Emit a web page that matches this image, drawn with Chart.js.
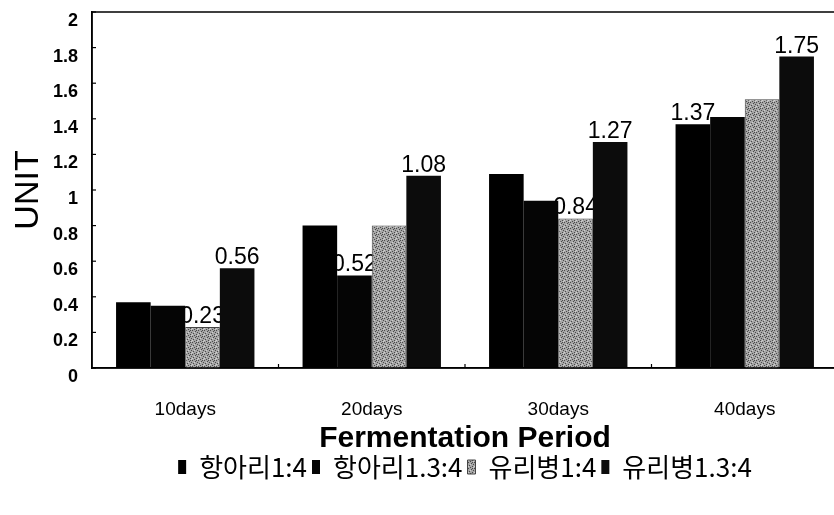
<!DOCTYPE html>
<html><head><meta charset="utf-8">
<script src="https://cdn.jsdelivr.net/npm/chart.js@4.4.1/dist/chart.umd.min.js"></script>
<style>html,body{margin:0;padding:0;background:#fff;overflow:hidden}</style>
</head><body>
<div style="width:834px;height:515px;overflow:hidden;background:#fff"><canvas id="c" width="838" height="515"></canvas></div>
<script>
const categories = ['10days', '20days', '30days', '40days'];
const seriesNames = ['항아리1:4', '항아리1.3:4', '유리병1:4', '유리병1.3:4'];
const hangari14 = [0.37, 0.80, 1.09, 1.37];
const hangari134 = [0.35, 0.52, 0.94, 1.41];
const yuribyeong14 = [0.23, 0.80, 0.84, 1.51];
const yuribyeong134 = [0.56, 1.08, 1.27, 1.75];
// series indices that carry a value label, per category
const labeledSeries = [[2, 3], [1, 3], [2, 3], [0, 3]];
const yMin = 0, yMax = 2, yStep = 0.2;

const sans = '"Liberation Sans", Arial, sans-serif';

// stippled grey fill (style only)
function stipple() {
  const c = document.createElement('canvas');
  c.width = 6; c.height = 6;
  const g = c.getContext('2d');
  g.fillStyle = '#a6a6a6'; g.fillRect(0, 0, 6, 6);
  g.fillStyle = '#4a4a4a';
  [[0,0],[3,1],[1,3],[4,4],[2,5],[5,2],[4,0]].forEach(p => g.fillRect(p[0], p[1], 1, 1));
  g.fillStyle = '#d0d0d0';
  [[2,2],[5,5],[0,4]].forEach(p => g.fillRect(p[0], p[1], 1, 1));
  return g.createPattern(c, 'repeat');
}

const overlay = {
  id: 'overlay',
  beforeDatasetsDraw(chart) {
    const ctx = chart.ctx;
    ctx.save();
    ctx.font = '23px ' + sans;
    ctx.fillStyle = '#000';
    ctx.textAlign = 'center';
    ctx.textBaseline = 'alphabetic';
    labeledSeries.forEach((list, ci) => list.forEach(si => {
      const el = chart.getDatasetMeta(si).data[ci];
      const v = chart.data.datasets[si].data[ci];
      ctx.fillText(v.toFixed(2), el.x, el.y - 4);
    }));
    ctx.restore();
  },
  afterDraw(chart) {
    const {ctx, chartArea: a, scales: {x, y}} = chart;
    ctx.save();
    ctx.strokeStyle = '#000';
    ctx.lineWidth = 1.5;
    ctx.strokeRect(a.left, a.top, a.right - a.left, a.bottom - a.top);
    ctx.lineWidth = 1.2;
    y.ticks.forEach(t => {
      const py = y.getPixelForValue(t.value);
      ctx.beginPath(); ctx.moveTo(a.left, py); ctx.lineTo(a.left + 4, py); ctx.stroke();
    });
    for (let i = 1; i < categories.length; i++) {
      const px = x.getPixelForValue(i - 0.5);
      ctx.beginPath(); ctx.moveTo(px, a.bottom); ctx.lineTo(px, a.bottom - 4); ctx.stroke();
    }
    ctx.restore();
  }
};

new Chart(document.getElementById('c'), {
  type: 'bar',
  data: {
    labels: categories,
    datasets: [
      {label: seriesNames[0], data: hangari14, backgroundColor: '#000', borderWidth: 0},
      {label: seriesNames[1], data: hangari134, backgroundColor: '#050505', borderWidth: 0},
      {label: seriesNames[2], data: yuribyeong14, backgroundColor: stipple(), borderColor: '#444', borderWidth: 1},
      {label: seriesNames[3], data: yuribyeong134, backgroundColor: '#0c0c0c', borderWidth: 0}
    ]
  },
  options: {
    responsive: false,
    animation: false,
    devicePixelRatio: 1,
    barPercentage: 1,
    categoryPercentage: 0.742,
    layout: {padding: {top: 12, left: 0, right: 0, bottom: 25}},
    plugins: {
      legend: {
        position: 'bottom',
        fullSize: false,
        labels: {
          boxWidth: 8, boxHeight: 14, padding: 5, color: '#000',
          font: {family: '"Noto Sans CJK KR", sans-serif', size: 26}
        }
      },
      tooltip: {enabled: false}
    },
    scales: {
      x: {
        grid: {display: false, drawTicks: false},
        border: {display: true, color: '#000', width: 1.5},
        ticks: {padding: 30, color: '#000', font: {family: sans, size: 19}},
        title: {display: true, text: 'Fermentation Period', color: '#000', padding: {top: 0, bottom: -8},
                font: {family: sans, size: 30, weight: 'bold'}},
        afterFit(s) { s.height = 81; }
      },
      y: {
        min: yMin, max: yMax,
        grid: {display: false, drawTicks: false},
        border: {display: true, color: '#000', width: 1.5},
        ticks: {stepSize: yStep, padding: 14, labelOffset: 9, color: '#000',
                font: {family: sans, size: 18, weight: 'bold'},
                callback: v => String(Number(v.toFixed(1)))},
        title: {display: true, text: 'UNIT', color: '#000', padding: {top: 8, bottom: 0},
                font: {family: sans, size: 34}},
        afterFit(s) { s.width = 92; s.paddingTop = 0; s.paddingBottom = 0; }
      }
    }
  },
  plugins: [overlay]
});
</script>
</body></html>
